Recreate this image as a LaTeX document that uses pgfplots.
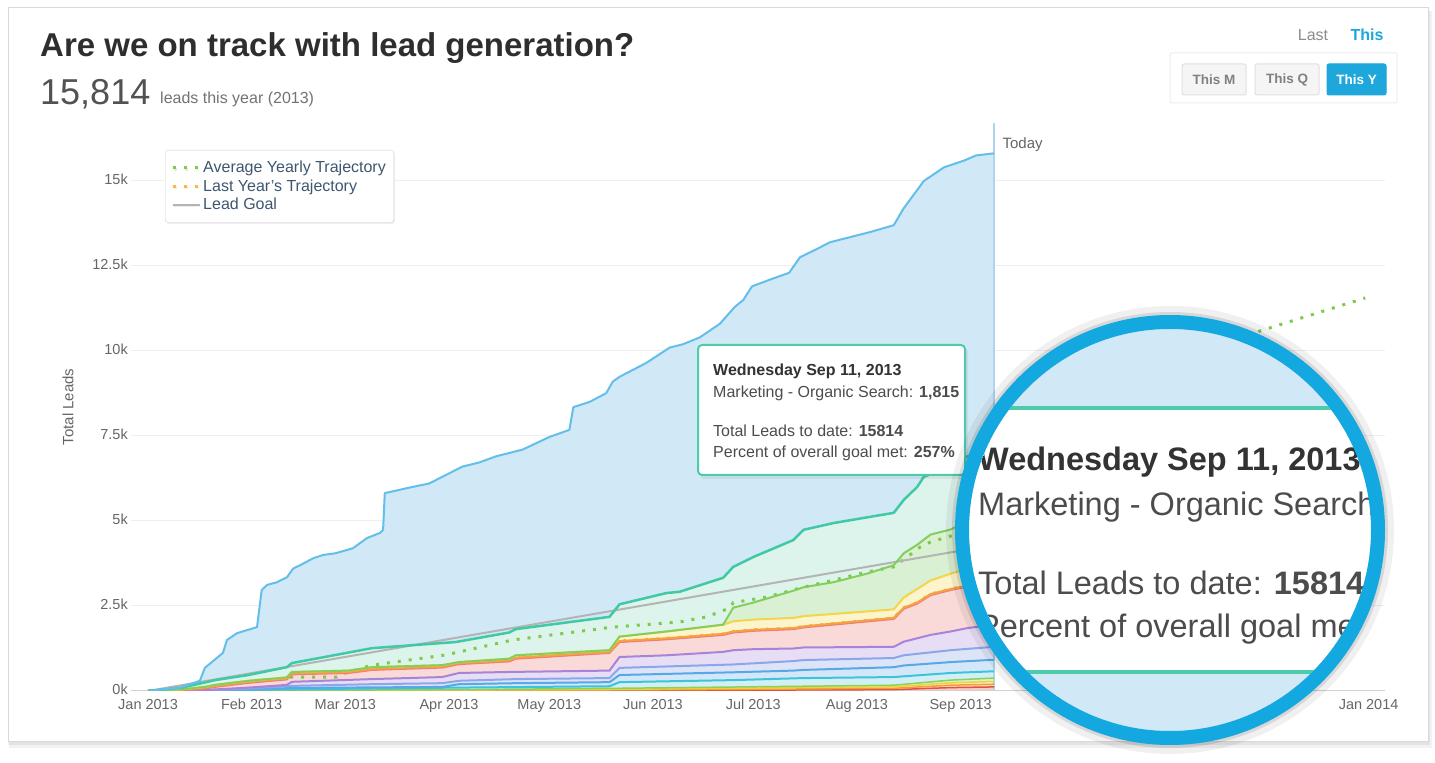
\documentclass[border=0pt]{standalone}
\usepackage{fontspec}
\setmainfont{Liberation Sans}
\usepackage{pgfplots}
\pgfplotsset{compat=1.18}
\usepackage{pgfplotstable}
\usetikzlibrary{shadows}

\definecolor{blueL}{HTML}{63BEEA}
\definecolor{blueF}{HTML}{D1E9F6}
\definecolor{tealL}{HTML}{3FC9A5}
\definecolor{tealF}{HTML}{DDF4EC}
\definecolor{grnL}{HTML}{84CF5C}
\definecolor{grnF}{HTML}{DAF0D3}
\definecolor{yelL}{HTML}{F4D54A}
\definecolor{yelF}{HTML}{FBF4CC}
\definecolor{orgL}{HTML}{F6A23E}
\definecolor{orgF}{HTML}{FCE3C6}
\definecolor{pnkL}{HTML}{F07C7C}
\definecolor{pnkF}{HTML}{F9DAD8}
\definecolor{purL}{HTML}{A784D8}
\definecolor{purF}{HTML}{E7DDF4}
\definecolor{perL}{HTML}{8CA6EA}
\definecolor{perF}{HTML}{DEE4F8}
\definecolor{bbL}{HTML}{56A8E6}
\definecolor{bbF}{HTML}{D3E7F8}
\definecolor{cyaL}{HTML}{3DC3DA}
\definecolor{cyaF}{HTML}{D2F0F4}
\definecolor{g2L}{HTML}{8CD05A}
\definecolor{y2L}{HTML}{EFD238}
\definecolor{o2L}{HTML}{F39A3C}
\definecolor{r2L}{HTML}{E4503E}
\definecolor{dotG}{HTML}{7DCB4E}
\definecolor{dotO}{HTML}{F7B84A}
\definecolor{goalC}{HTML}{B4B4B4}
\definecolor{todayC}{HTML}{AED5EC}
\definecolor{gridC}{HTML}{EEEEEE}
\definecolor{tickC}{HTML}{666666}
\definecolor{legC}{HTML}{3E576F}
\definecolor{ringC}{HTML}{13A8DF}
\definecolor{tipC}{HTML}{4DCBAA}
\definecolor{btnC}{HTML}{1DA7DB}
\definecolor{xaxC}{HTML}{D0D0D0}

% values in thousands of leads, x in days since 1 Jan 2013
\pgfplotstableread{
d v
0 0
9.6 0.1
15.5 0.3
17 0.68
22.4 1.12
23.6 1.5
26.6 1.7
32.6 1.88
34 2.97
35.6 3.12
38.6 3.2
41.6 3.35
43.4 3.6
45.5 3.7
49.3 3.9
52.3 4.0
56 4.05
61.3 4.2
65.5 4.5
69.4 4.65
70.3 4.74
70.8 5.82
79 6.0
84 6.1
88 6.3
94 6.6
99 6.72
104 6.9
112 7.1
120 7.47
126 7.68
127.2 8.35
132 8.5
137 8.76
139 9.1
141 9.24
149 9.65
156 10.1
160 10.2
165 10.4
171 10.8
175.5 11.3
178 11.5
180.6 11.9
186 12.1
191.7 12.3
195 12.76
199 12.95
204 13.2
210 13.35
216 13.5
223 13.7
226 14.2
232 15.0
238 15.4
244 15.6
247.6 15.75
253 15.814
}\Tblue

\pgfplotstableread{
d v
0 0
10 0.1
17 0.25
20 0.32
30 0.47
41.5 0.7
43 0.82
67 1.26
92 1.44
108 1.72
110 1.82
138 2.18
141 2.55
155 2.88
159 2.92
172 3.33
175 3.65
181 3.94
193 4.44
196 4.74
205 4.94
223 5.24
226 5.62
230 6.0
232 6.3
240 6.6
245 6.9
253 7.1
}\Tteal

\pgfplotstableread{
d v
0 0
10 0.05
17 0.12
20 0.18
30 0.3
41.5 0.4
43 0.56
60 0.6
67 0.7
88 0.76
93 0.85
108 0.95
110 1.05
138 1.2
141 1.6
155 1.75
172 1.95
175 2.45
181 2.6
193 2.95
196 3.05
205 3.2
215 3.45
223 3.7
226 4.05
230 4.3
234 4.6
240 4.75
245 5.0
253 5.2
}\Tgreen

\pgfplotstableread{
d v
0 0
10 0.05
17 0.12
20 0.18
30 0.3
41.5 0.4
43 0.56
60 0.6
67 0.7
88 0.76
93 0.85
108 0.95
110 1.05
138 1.2
141 1.6
155 1.75
172 1.95
175 2.05
181 2.1
193 2.15
196 2.2
223 2.4
226 2.75
230 3.0
234 3.25
240 3.45
245 3.6
253 3.75
}\Tyellow

\pgfplotstableread{
d v
0 0
10 0.04
17 0.1
20 0.15
30 0.27
41.5 0.37
43 0.52
60 0.56
67 0.65
88 0.72
93 0.82
108 0.9
110 0.98
138 1.15
141 1.47
155 1.55
172 1.68
175 1.75
181 1.8
193 1.85
196 1.9
223 2.15
226 2.45
230 2.6
234 2.85
240 3.0
245 3.1
253 3.2
}\Torange

\pgfplotstableread{
d v
0 0
10 0.02
17 0.07
20 0.12
30 0.24
41.5 0.34
43 0.49
60 0.53
67 0.62
88 0.69
93 0.79
108 0.87
110 0.95
138 1.12
141 1.44
155 1.52
172 1.65
175 1.72
181 1.77
193 1.82
196 1.87
223 2.12
226 2.42
230 2.57
234 2.82
240 2.97
245 3.07
253 3.17
}\Tpink

\pgfplotstableread{
d v
0 0
17 0.03
30 0.1
41.5 0.18
43 0.27
67 0.35
88 0.41
93 0.53
108 0.56
138 0.6
141 1.0
155 1.05
172 1.15
175 1.2
181 1.23
193 1.25
196 1.28
223 1.3
226 1.45
234 1.65
240 1.75
245 1.85
253 1.95
}\Tpurple

\pgfplotstableread{
d v
0 0
17 0.02
30 0.07
43 0.15
67 0.2
88 0.23
93 0.3
110 0.35
138 0.38
141 0.68
175 0.78
193 0.88
196 0.91
223 0.97
226 1.05
240 1.2
253 1.3
}\Tperi

\pgfplotstableread{
d v
0 0
30 0.04
43 0.09
88 0.12
93 0.2
110 0.23
138 0.26
141 0.47
175 0.55
193 0.6
196 0.62
223 0.7
226 0.75
240 0.85
253 0.92
}\Tbb

\pgfplotstableread{
d v
0 0
43 0.05
93 0.1
138 0.14
141 0.26
175 0.32
196 0.38
223 0.41
240 0.53
253 0.58
}\Tcyan

\pgfplotstableread{
d v
0 0
93 0.04
141 0.08
196 0.14
223 0.17
240 0.32
253 0.38
}\Tgt

\pgfplotstableread{
d v
0 0
141 0.05
196 0.1
223 0.12
240 0.24
253 0.28
}\Tyt

\pgfplotstableread{
d v
0 0
141 0.03
196 0.06
223 0.08
240 0.17
253 0.2
}\Tot

\pgfplotstableread{
d v
0 0
141 0.015
196 0.03
223 0.04
240 0.1
253 0.12
}\Trt

\pgfplotstableread{
d v
42.5 0.41
56.5 0.41
58 0.5
67 0.76
89 1.06
109 1.5
139 1.88
159 2.03
167 2.18
174 2.44
175 2.6
185 2.76
195 3.03
205 3.26
215 3.5
223 3.65
227 3.94
231 4.24
234 4.38
245 4.7
253 4.95
300 8.0
331.6 10.56
364 11.56
}\Tavg

\pgfplotstableread{
d v
0 0
365 6.2
}\Tgoal

\begin{document}
\begin{tikzpicture}
\useasboundingbox (0,0) rectangle (1435pt,763pt);
\begin{scope}[yshift=763pt, x=1pt, y=-1pt]
  \fill[white] (0,0) rectangle (1435,763);
  \fill[black, opacity=0.05] (9,11) rectangle (1432,748);
  \fill[black, opacity=0.06] (8,10) rectangle (1430,745);
  \filldraw[fill=white, draw=black!15, line width=1] (8,8) rectangle (1428,742);
  \node[anchor=base west, inner sep=0, font=\bfseries\fontsize{33}{36}\selectfont, text=black!82] at (40,57) {Are we on track with lead generation?};
  \node[anchor=base west, inner sep=0, font=\fontsize{36}{40}\selectfont, text=black!68] at (40,105) {15,814};
  \node[anchor=base west, inner sep=0, font=\fontsize{16}{18}\selectfont, text=black!55] at (160,104) {leads this year (2013)};
  % period selector
  \node[anchor=center, inner sep=0, font=\fontsize{16}{18}\selectfont, text=black!45] at (1313,35) {Last};
  \node[anchor=center, inner sep=0, font=\bfseries\fontsize{16}{18}\selectfont, text=btnC] at (1367,35) {This};
  \filldraw[fill=white, draw=black!7, line width=1, rounded corners=2] (1170,53) rectangle (1397,103);
  \filldraw[fill=black!4, draw=black!12, line width=1, rounded corners=2] (1182,64) rectangle (1246,95);
  \filldraw[fill=black!4, draw=black!12, line width=1, rounded corners=2] (1255,64) rectangle (1319,95);
  \filldraw[fill=btnC, draw=btnC, line width=1, rounded corners=2] (1327,64) rectangle (1386,95);
  \node[inner sep=0, font=\bfseries\fontsize{13.5}{15}\selectfont, text=black!50] at (1214,80) {This M};
  \node[inner sep=0, font=\bfseries\fontsize{13.5}{15}\selectfont, text=black!50] at (1287,80) {This Q};
  \node[inner sep=0, font=\bfseries\fontsize{13.5}{15}\selectfont, text=white] at (1356.5,80) {This Y};
\end{scope}

\begin{axis}[
  at={(131.3pt,72pt)}, anchor=south west,
  scale only axis, width=1254pt, height=568pt,
  xmin=-5, xmax=370, ymin=0, ymax=16.706,
  axis line style={draw=none},
  tick style={draw=none},
  major tick length=0pt,
  ytick={0,2.5,5,7.5,10,12.5,15},
  yticklabels={0k,2.5k,5k,7.5k,10k,12.5k,15k},
  xtick={0,31,59,90,120,151,181,212,243,365},
  xticklabels={Jan 2013,Feb 2013,Mar 2013,Apr 2013,May 2013,Jun 2013,Jul 2013,Aug 2013,Sep 2013,Jan 2014},
  tick label style={font=\fontsize{14.5}{16}\selectfont, text=tickC},
  xticklabel style={yshift=-4pt, text height=11pt, text depth=3pt},
  yticklabel style={yshift=2pt},
  ymajorgrids, grid style={gridC, line width=1pt},
  ylabel={Total Leads},
  ylabel style={at={(axis description cs:-0.0505,0.5)}, anchor=center, font=\fontsize{15}{17}\selectfont, text=tickC},
  legend image code/.code={\draw[#1] (0pt,0pt) -- (21pt,0pt); \path (0pt,0pt) -- (27pt,0pt);},
  legend cell align=left,
  legend style={at={(0.0269,0.9525)}, anchor=north west, draw=black!18, fill=white,
    rounded corners=3pt, font=\fontsize{16}{16}\selectfont, text=legC,
    inner xsep=6pt, inner ysep=10pt, row sep=3.5pt,
    nodes={inner ysep=1pt},
    drop shadow={shadow xshift=1pt, shadow yshift=-1.5pt, opacity=0.12}},
]
% stacked area fills, drawn from the top layer down
\addplot[fill=blueF, draw=none, forget plot] table {\Tblue} \closedcycle;
\addplot[fill=tealF, draw=none, forget plot] table {\Tteal} \closedcycle;
\addplot[fill=grnF, draw=none, forget plot] table {\Tgreen} \closedcycle;
\addplot[fill=yelF, draw=none, forget plot] table {\Tyellow} \closedcycle;
\addplot[fill=orgF, draw=none, forget plot] table {\Torange} \closedcycle;
\addplot[fill=pnkF, draw=none, forget plot] table {\Tpink} \closedcycle;
\addplot[fill=purF, draw=none, forget plot] table {\Tpurple} \closedcycle;
\addplot[fill=perF, draw=none, forget plot] table {\Tperi} \closedcycle;
\addplot[fill=bbF, draw=none, forget plot] table {\Tbb} \closedcycle;
\addplot[fill=cyaF, draw=none, forget plot] table {\Tcyan} \closedcycle;
\addplot[fill=g2L!30, draw=none, forget plot] table {\Tgt} \closedcycle;
\addplot[fill=y2L!30, draw=none, forget plot] table {\Tyt} \closedcycle;
\addplot[fill=o2L!30, draw=none, forget plot] table {\Tot} \closedcycle;
\addplot[fill=r2L!30, draw=none, forget plot] table {\Trt} \closedcycle;
% today marker and axis base line
\addplot[todayC, line width=2.5pt, forget plot] coordinates {(253,0) (253,16.706)};
\addplot[xaxC, line width=1pt, forget plot] coordinates {(-5,0) (370,0)};
% trajectories and goal
\addplot[dotG, line width=3pt, dash pattern=on 3pt off 8pt] table {\Tavg};
\addlegendentry{Average Yearly Trajectory}
\addplot[dotO, line width=3pt, dash pattern=on 3pt off 8pt] table {\Torange};
\addlegendentry{Last Year's Trajectory}
\addplot[goalC, line width=2pt] table {\Tgoal};
\addlegendentry{Lead Goal}
% stacked area lines
\addplot[r2L, line width=1.5pt, forget plot] table {\Trt};
\addplot[o2L, line width=1.5pt, forget plot] table {\Tot};
\addplot[y2L, line width=1.5pt, forget plot] table {\Tyt};
\addplot[g2L, line width=1.5pt, forget plot] table {\Tgt};
\addplot[cyaL, line width=2pt, forget plot] table {\Tcyan};
\addplot[bbL, line width=2pt, forget plot] table {\Tbb};
\addplot[perL, line width=2pt, forget plot] table {\Tperi};
\addplot[purL, line width=2pt, forget plot] table {\Tpurple};
\addplot[pnkL, line width=2pt, forget plot] table {\Tpink};
\addplot[orgL, line width=2pt, forget plot] table {\Torange};
\addplot[yelL, line width=2pt, forget plot] table {\Tyellow};
\addplot[grnL, line width=2pt, forget plot] table {\Tgreen};
\addplot[tealL, line width=2.5pt, line join=round, forget plot] table {\Tteal};
\addplot[blueL, line width=2pt, line join=round, forget plot] table {\Tblue};
\node[anchor=west, inner sep=0, font=\fontsize{15}{17}\selectfont, text=tickC] at (axis cs:255.5,16.06) {Today};
\end{axis}

\begin{scope}[yshift=763pt, x=1pt, y=-1pt]
  % tooltip
  \fill[black, opacity=0.06, rounded corners=4] (700,348) rectangle (968,479);
  \filldraw[fill=white, draw=tipC, line width=2, rounded corners=4] (698,345) rectangle (965,475);
  \node[anchor=base west, inner sep=0, font=\bfseries\fontsize{16}{18}\selectfont, text=black!80] at (713,376) {Wednesday Sep 11, 2013};
  \node[anchor=base west, inner sep=0, font=\fontsize{16}{18}\selectfont, text=black!70] at (713,398) {Marketing - Organic Search: \textbf{1,815}};
  \node[anchor=base west, inner sep=0, font=\fontsize{16}{18}\selectfont, text=black!70] at (713,437) {Total Leads to date: \textbf{15814}};
  \node[anchor=base west, inner sep=0, font=\fontsize{16}{18}\selectfont, text=black!70] at (713,458) {Percent of overall goal met: \textbf{257\%}};
  % magnifier
  \begin{scope}
    \clip (1170,530) circle (201pt);
    \fill[blueF] (940,300) rectangle (1420,770);
    \fill[white] (940,408) rectangle (1420,672);
    \draw[tipC, line width=4] (940,408) -- (1420,408);
    \draw[tipC, line width=4] (940,672) -- (1420,672);
    \node[anchor=base west, inner sep=0, font=\bfseries\fontsize{32.5}{36}\selectfont, text=black!80] at (978,471) {Wednesday Sep 11, 2013};
    \node[anchor=base west, inner sep=0, font=\fontsize{32.5}{36}\selectfont, text=black!70] at (978,516) {Marketing - Organic Search: \textbf{1,815}};
    \node[anchor=base west, inner sep=0, font=\fontsize{32.5}{36}\selectfont, text=black!70] at (978,595) {Total Leads to date: \textbf{15814}};
    \node[anchor=base west, inner sep=0, font=\fontsize{32.5}{36}\selectfont, text=black!70] at (978,638) {Percent of overall goal met: \textbf{257\%}};
  \end{scope}
  \draw[black, opacity=0.06, line width=12] (1170,530) circle (218pt);
  \draw[black, opacity=0.10, line width=6] (1170,530) circle (215pt);
  \draw[ringC, line width=14] (1170,530) circle (208pt);
\end{scope}
\end{tikzpicture}
\end{document}
